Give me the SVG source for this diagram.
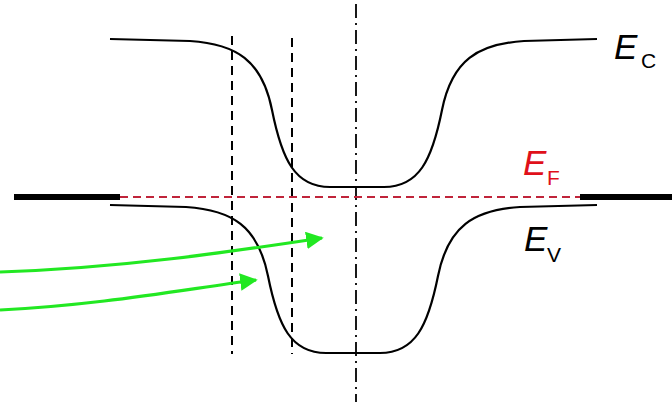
<svg xmlns="http://www.w3.org/2000/svg" width="672" height="404" viewBox="0 0 672 404">
<defs>
<style>
.band{fill:none;stroke:#000;stroke-width:2.2}
.vdash{fill:none;stroke:#000;stroke-width:2;stroke-dasharray:9 6}
.vdd{fill:none;stroke:#000;stroke-width:1.8;stroke-dasharray:14 5 2 5}
.ef{fill:none;stroke:#c0243a;stroke-width:2;stroke-dasharray:8 5}
.thick{fill:none;stroke:#000;stroke-width:6}
.arr{fill:none;stroke:#22e822;stroke-width:3.2}
.lbl{font-family:"Liberation Sans",Arial,sans-serif;font-style:italic;font-size:35px}
.sub{font-family:"Liberation Sans",Arial,sans-serif;font-size:21px}
</style>
<marker id="ah" viewBox="0 0 10 10" refX="9" refY="5" markerWidth="5.5" markerHeight="5.5" markerUnits="strokeWidth" orient="auto">
<path d="M0,0 L10,5 L0,10 Z" fill="#22e822"/>
</marker>
</defs>
<rect width="672" height="404" fill="#fff"/>
<g id="guides">
<line class="vdash" x1="232" y1="36" x2="232" y2="354"/>
<line class="vdash" x1="292" y1="38" x2="292" y2="354"/>
<line class="vdd" x1="356" y1="4" x2="356" y2="402"/>
</g>
<g id="conduction-band">
<path class="band" d="M110,39 L190,41 C236,44 262,60 272,110 C282,160 295,187 330,187 L384,187 C419,187 432,160 442,110 C452,60 478,44 524,41 L597,39"/>
</g>
<g id="valence-band">
<path class="band" d="M110,205 L186,207 C232,210 258,226 268,276 C278,326 291,353 326,353 L380,353 C415,353 428,326 438,276 C448,226 474,210 520,207 L597,205"/>
</g>
<g id="fermi-level">
<line class="thick" x1="14" y1="197" x2="120" y2="197"/>
<line class="ef" x1="120" y1="197" x2="580" y2="197"/>
<line class="thick" x1="580" y1="197" x2="672" y2="197"/>
</g>
<g id="connectors">
<path class="arr" d="M0,272 C120,268 230,252 322,238" marker-end="url(#ah)"/>
<path class="arr" d="M0,310 C100,305 180,290 256,280" marker-end="url(#ah)"/>
</g>
<g id="label-ec">
<text class="lbl" x="614" y="59">E</text><text class="sub" x="641" y="68">C</text>
</g>
<g id="label-ef" fill="#e0101a">
<text class="lbl" x="523" y="175">E</text><text class="sub" x="547" y="185">F</text>
</g>
<g id="label-ev">
<text class="lbl" x="524" y="251">E</text><text class="sub" x="547" y="262">V</text>
</g>
</svg>
